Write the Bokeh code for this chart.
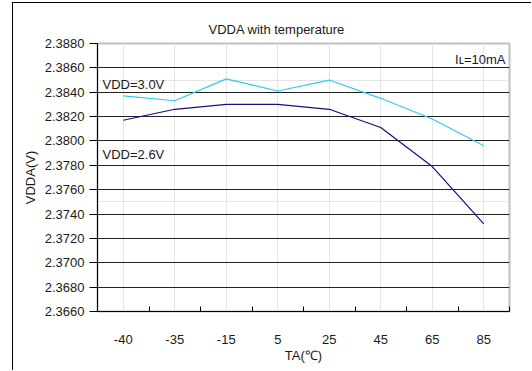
from bokeh.plotting import figure
from bokeh.models import (FactorRange, Range1d, LinearAxis, CategoricalAxis, FixedTicker,
                          NumeralTickFormatter, Grid, Label)
from bokeh.embed import file_html
from bokeh.resources import INLINE

# ---- data ----
temperatures = ["-40", "-35", "-15", "5", "25", "45", "65", "85"]
vdda_vdd30 = [2.3837, 2.3833, 2.3851, 2.3841, 2.3850, 2.3835, 2.3818, 2.3796]
vdda_vdd26 = [2.3817, 2.3826, 2.3830, 2.3830, 2.3826, 2.3811, 2.3779, 2.3732]
y_ticks = [2.3660, 2.3680, 2.3700, 2.3720, 2.3740, 2.3760, 2.3780,
           2.3800, 2.3820, 2.3840, 2.3860, 2.3880]
series_labels = ["VDD=3.0V", "VDD=2.6V"]
title_text = "VDDA with temperature"
note_text = "I\u029f=10mA"
x_label = "TA(\u2103)"
y_label = "VDDA(V)"

FONT = "Liberation Sans"
FS = "13px"
TXT = "#1a1a1a"

p = figure(width=519, height=368,
           x_range=FactorRange(factors=temperatures),
           y_range=Range1d(y_ticks[0], y_ticks[-1]),
           x_axis_location=None, y_axis_location=None,
           output_backend="svg", toolbar_location=None,
           min_border_left=84, min_border_right=23,
           min_border_top=40, min_border_bottom=60)
p.margin = (2, 0, 0, 12)
p.styles = {"border-left": "1px solid #000", "border-top": "1px solid #000"}
p.background_fill_color = "white"
p.border_fill_color = "white"
p.outline_line_color = "#c0c0c0"
p.outline_line_width = 2

p.title.text = title_text
p.title.align = "left"
p.title.offset = 111
p.title.standoff = 13
p.title.text_font = FONT
p.title.text_font_size = FS
p.title.text_font_style = "normal"
p.title.text_color = TXT

# grid
p.add_layout(Grid(dimension=1, ticker=FixedTicker(ticks=y_ticks),
                  grid_line_color="#222222", grid_line_width=1))

# y axis
yaxis = LinearAxis(ticker=FixedTicker(ticks=y_ticks),
                   formatter=NumeralTickFormatter(format="0.0000"),
                   axis_label=y_label,
                   major_tick_out=8, major_tick_in=0,
                   minor_tick_line_color=None,
                   major_label_standoff=5, axis_label_standoff=4,
                   axis_line_color="black", major_tick_line_color="black",
                   major_label_text_font=FONT, major_label_text_font_size=FS,
                   major_label_text_color=TXT,
                   axis_label_text_font=FONT, axis_label_text_font_size=FS,
                   axis_label_text_font_style="normal", axis_label_text_color=TXT)
p.add_layout(yaxis, "left")

# x axis: tick marks at category boundaries (synthetic coordinates of the factor range)
edge_ticks = list(range(0, len(temperatures) + 1))
edge_axis = LinearAxis(ticker=FixedTicker(ticks=edge_ticks),
                       major_label_overrides={t: "" for t in edge_ticks},
                       major_tick_in=5, major_tick_out=0,
                       minor_tick_line_color=None,
                       major_label_text_font_size="1px", major_label_standoff=0,
                       axis_line_color="black", major_tick_line_color="black")
p.add_layout(edge_axis, "below")

# x axis: category labels
cat_axis = CategoricalAxis(axis_line_color=None, major_tick_line_color=None,
                           major_label_standoff=17, axis_label=x_label,
                           axis_label_standoff=1,
                           major_label_text_font=FONT, major_label_text_font_size=FS,
                           major_label_text_color=TXT,
                           axis_label_text_font=FONT, axis_label_text_font_size=FS,
                           axis_label_text_font_style="normal", axis_label_text_color=TXT)
p.add_layout(cat_axis, "below")

# lines
p.line(temperatures, vdda_vdd30, line_color="#2ecbf5", line_width=1.2)
p.line(temperatures, vdda_vdd26, line_color="#10108a", line_width=1.2)

# annotations
p.add_layout(Label(x=0, y=y_ticks[9], x_offset=5, y_offset=0, text=series_labels[0],
                   text_baseline="bottom", text_font=FONT, text_font_size=FS,
                   text_color=TXT))
p.add_layout(Label(x=0, y=y_ticks[7], x_offset=5, y_offset=-6, text=series_labels[1],
                   text_baseline="top", text_font=FONT, text_font_size=FS,
                   text_color=TXT))
p.add_layout(Label(x=len(temperatures), y=y_ticks[10], x_offset=-4, y_offset=1,
                   text=note_text, text_align="right", text_baseline="bottom",
                   text_font=FONT, text_font_size=FS, text_color=TXT))

open("out.html", "w").write(file_html(p, INLINE))
